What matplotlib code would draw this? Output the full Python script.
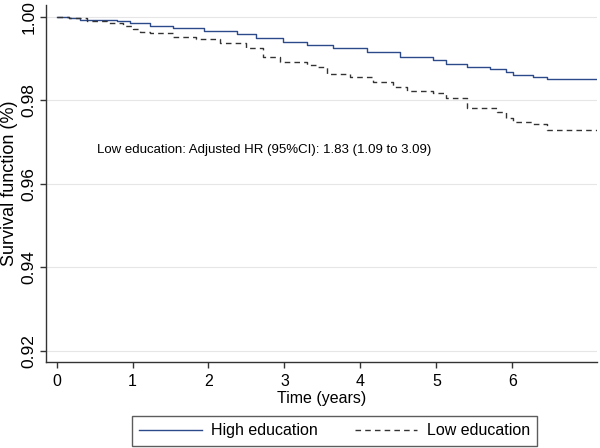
import matplotlib
matplotlib.use("Agg")
import matplotlib.pyplot as plt

plt.rcParams['font.family'] = ['Liberation Sans', 'DejaVu Sans']

# Kaplan-Meier step values
time_high = [0, 0.16, 0.31, 0.55, 0.79, 0.97, 1.23, 1.53, 1.94, 2.37, 2.63, 2.98,
             3.29, 3.64, 4.08, 4.52, 4.96, 5.13, 5.40, 5.70, 5.92, 6.01, 6.27, 6.45, 7.15]
surv_high = [1.0, 0.9996, 0.9993, 0.9991, 0.9989, 0.9984, 0.9978, 0.9972, 0.9966,
             0.9958, 0.9948, 0.9940, 0.9932, 0.9924, 0.9915, 0.9904, 0.9896, 0.9887,
             0.9880, 0.9875, 0.9868, 0.9860, 0.9855, 0.9850, 0.9850]

time_low = [0, 0.16, 0.40, 0.66, 0.88, 1.01, 1.10, 1.23, 1.53, 1.84, 2.15, 2.50, 2.72,
            2.94, 3.29, 3.42, 3.56, 3.86, 4.17, 4.43, 4.61, 4.96, 5.13, 5.40, 5.79,
            5.92, 6.01, 6.27, 6.45, 7.15]
surv_low = [1.0, 0.9996, 0.9989, 0.9984, 0.9978, 0.9970, 0.9964, 0.9960, 0.9952,
            0.9946, 0.9936, 0.9924, 0.9904, 0.9892, 0.9884, 0.9880, 0.9864, 0.9856,
            0.9844, 0.9832, 0.9821, 0.9817, 0.9805, 0.9781, 0.9773, 0.9757, 0.9749,
            0.9743, 0.9729, 0.9729]

x_ticks = [0, 1, 2, 3, 4, 5, 6]
y_ticks = [0.92, 0.94, 0.96, 0.98, 1.00]
y_tick_labels = ['0.92', '0.94', '0.96', '0.98', '1.00']

annotation = 'Low education: Adjusted HR (95%CI): 1.83 (1.09 to 3.09)'

fig = plt.figure(figsize=(6, 4.48), dpi=100)
ax = fig.add_axes([0.0767, 0.1926, 0.918, 0.796])

ax.step(time_high, surv_high, where='post', color='#2c4a8a', lw=1.0,
        label='High education')
ax.step(time_low, surv_low, where='post', color='#333333', lw=1.0,
        dashes=(4, 3), label='Low education')

ax.set_xlim(-0.138, 7.11)
ax.set_ylim(0.91744, 1.00277)
ax.set_xticks(x_ticks)
ax.set_yticks(y_ticks)
ax.set_yticklabels(y_tick_labels, rotation=90, va='center', fontsize=12.5)

ax.grid(axis='y', color='#e6e6e6', lw=0.8)
ax.set_axisbelow(True)

for s in ['top', 'right']:
    ax.spines[s].set_visible(False)
for s in ['left', 'bottom']:
    ax.spines[s].set_color('#333333')
    ax.spines[s].set_linewidth(1.0)

ax.tick_params(axis='both', colors='#333333', labelcolor='black',
               length=4, width=1.0, direction='out')
ax.tick_params(axis='x', labelsize=11.5, pad=5)
ax.tick_params(axis='y', pad=3)

ax.set_xlabel('Time (years)', fontsize=11.5, labelpad=1)
ax.set_ylabel('Survival function (%)', fontsize=13)
ax.yaxis.set_label_coords(-0.05, 0.5)

ax.text(0.53, 0.9681, annotation, fontsize=9.5, va='center', ha='left')

leg = fig.legend(loc='center', bbox_to_anchor=(0.5575, 0.038), ncol=2,
                 fontsize=11.5, frameon=True, fancybox=False, handlelength=3.9,
                 handletextpad=0.6, columnspacing=2.3, borderpad=0.45)
leg.get_frame().set_edgecolor('#333333')
leg.get_frame().set_linewidth(1.0)

fig.savefig('out.png', dpi=100, facecolor='white')
